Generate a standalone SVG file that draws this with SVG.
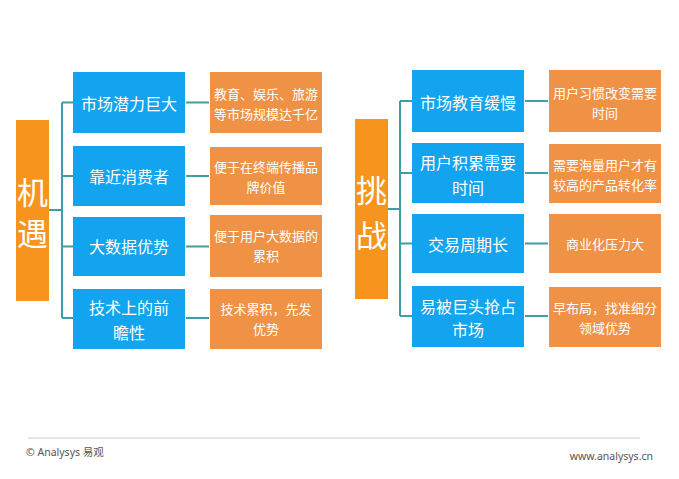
<svg xmlns="http://www.w3.org/2000/svg" width="679" height="479" viewBox="0 0 679 479">
<style>
.bg{fill:#ffffff}
.bar{fill:#f7941d}
.blue{fill:#12a4ee}
.org{fill:#f09246}
.ln{stroke:#3d9fa6;stroke-width:2;fill:none}
.big{font-family:"Noto Sans CJK SC","Noto Sans",sans-serif;font-size:31px;fill:#fff;text-anchor:middle;dominant-baseline:central}
.bt{font-family:"Noto Sans CJK SC","Noto Sans",sans-serif;font-size:16px;fill:#fff;text-anchor:middle;dominant-baseline:central}
.ot{font-family:"Noto Sans CJK SC","Noto Sans",sans-serif;font-size:13px;fill:#fff;text-anchor:middle;dominant-baseline:central}
.ft{font-family:"Noto Sans","Noto Sans CJK SC",sans-serif;font-size:10.5px;fill:#555}
</style>
<rect class="bg" x="0" y="0" width="679" height="479"/>
<g id="connectors">
<path class="ln" d="M49 210H62M62 102.5V318M62 102.5H73M62 176H73M62 246.5H73M62 318H73"/>
<path class="ln" d="M186 102.5H209M186 176H209M186 246.5H209M186 318H209"/>
<path class="ln" d="M388 209H400M400 101V316M400 101H412M400 173H412M400 243.5H412M400 316H412"/>
<path class="ln" d="M525 101H548M525 173H548M525 243.5H548M525 316H548"/>
</g>
<g id="opportunity">
<rect class="bar" x="16" y="120" width="33" height="181"/>
<text class="big" x="32.5" y="190">机</text>
<text class="big" x="32.5" y="231">遇</text>
</g>
<g id="o1"><rect class="blue" x="73" y="72" width="112" height="61"/><text class="bt" x="129" y="103">市场潜力巨大</text></g>
<g id="o2"><rect class="blue" x="73" y="146" width="112" height="60"/><text class="bt" x="129" y="176">靠近消费者</text></g>
<g id="o3"><rect class="blue" x="73" y="217" width="112" height="59"/><text class="bt" x="129" y="246">大数据优势</text></g>
<g id="o4"><rect class="blue" x="73" y="289" width="112" height="60"/><text class="bt" x="129" y="307">技术上的前</text><text class="bt" x="129" y="332">瞻性</text></g>
<g id="o1d"><rect class="org" x="210" y="72" width="112" height="61"/><text class="ot" x="266" y="93">教育、娱乐、旅游</text><text class="ot" x="266" y="113">等市场规模达千亿</text></g>
<g id="o2d"><rect class="org" x="210" y="147" width="112" height="58"/><text class="ot" x="266" y="166">便于在终端传播品</text><text class="ot" x="266" y="186">牌价值</text></g>
<g id="o3d"><rect class="org" x="210" y="215" width="112" height="62"/><text class="ot" x="266" y="235">便于用户大数据的</text><text class="ot" x="266" y="255">累积</text></g>
<g id="o4d"><rect class="org" x="210" y="289" width="112" height="60"/><text class="ot" x="266" y="308">技术累积，先发</text><text class="ot" x="266" y="328">优势</text></g>
<g id="challenge">
<rect class="bar" x="355" y="119" width="33" height="180"/>
<text class="big" x="371.5" y="188">挑</text>
<text class="big" x="371.5" y="233">战</text>
</g>
<g id="c1"><rect class="blue" x="412" y="70" width="112" height="62"/><text class="bt" x="468" y="102">市场教育缓慢</text></g>
<g id="c2"><rect class="blue" x="412" y="143" width="112" height="60"/><text class="bt" x="468" y="162">用户积累需要</text><text class="bt" x="468" y="187">时间</text></g>
<g id="c3"><rect class="blue" x="412" y="214" width="112" height="59"/><text class="bt" x="468" y="244">交易周期长</text></g>
<g id="c4"><rect class="blue" x="412" y="286" width="112" height="61"/><text class="bt" x="468" y="306">易被巨头抢占</text><text class="bt" x="468" y="329">市场</text></g>
<g id="c1d"><rect class="org" x="549" y="70" width="112" height="62"/><text class="ot" x="605" y="92">用户习惯改变需要</text><text class="ot" x="605" y="112">时间</text></g>
<g id="c2d"><rect class="org" x="549" y="144" width="112" height="59"/><text class="ot" x="605" y="164">需要海量用户才有</text><text class="ot" x="605" y="184">较高的产品转化率</text></g>
<g id="c3d"><rect class="org" x="549" y="214" width="112" height="59"/><text class="ot" x="605" y="243">商业化压力大</text></g>
<g id="c4d"><rect class="org" x="549" y="287" width="112" height="60"/><text class="ot" x="605" y="307">早布局，找准细分</text><text class="ot" x="605" y="327">领域优势</text></g>
<g id="footer">
<line x1="28" y1="438" x2="640" y2="438" stroke="#cccccc" stroke-width="1"/>
<text class="ft" x="26" y="456">© Analysys 易观</text>
<text class="ft" x="653" y="460" text-anchor="end">www.analysys.cn</text>
</g>
</svg>
